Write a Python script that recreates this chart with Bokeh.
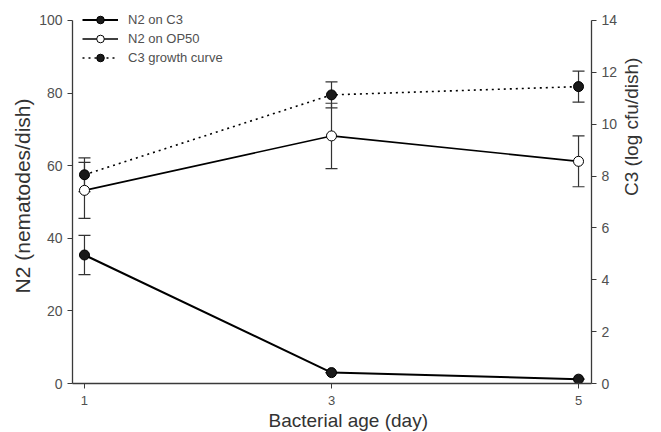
import math
from bokeh.plotting import figure
from bokeh.models import Range1d, LinearAxis, FixedTicker, Whisker, TeeHead, ColumnDataSource, Legend, LegendItem, Title
from bokeh.embed import file_html
from bokeh.resources import INLINE

# ---- data ----
days = [1, 3, 5]
n2_c3 = [35.4, 3.0, 1.2]
n2_c3_err = [5.4, 0.0, 0.0]
n2_op50 = [53.2, 68.2, 61.2]
n2_op50_err = [7.7, 9.0, 7.0]
c3_growth = [8.05, 11.13, 11.45]
c3_growth_err = [0.65, 0.5, 0.6]

x_ticks = [1, 3, 5]
left_ticks = [0, 20, 40, 60, 80, 100]
right_ticks = [0, 2, 4, 6, 8, 10, 12, 14]

FONT = "Liberation Sans"
AX = "#3a3a3a"
TXT = "#505050"
LAB = "#333333"

p = figure(width=661, height=432, output_backend="svg", toolbar_location=None,
           x_range=Range1d(0.903, 5.105), y_range=Range1d(0, 103.3),
           min_border_left=72, min_border_right=70, min_border_top=8, min_border_bottom=49)
p.extra_y_ranges = {"right": Range1d(0, 14.462)}
p.grid.visible = False
p.outline_line_color = None
p.background_fill_color = "white"

def style(ax, size):
    ax.major_label_text_font = FONT
    ax.major_label_text_font_size = size
    ax.major_label_text_color = TXT
    ax.axis_line_color = AX
    ax.axis_line_width = 1.3
    ax.major_tick_line_color = AX
    ax.major_tick_in = 0
    ax.major_tick_out = 5
    ax.minor_tick_line_color = None

xa = p.xaxis[0]
style(xa, "13px")
xa.ticker = FixedTicker(ticks=x_ticks)
xa.major_label_standoff = 7

ya = p.yaxis[0]
style(ya, "14px")
ya.ticker = FixedTicker(ticks=left_ticks)
ya.major_label_standoff = 5
ya.bounds = (0, 100)

ra = LinearAxis(y_range_name="right")
style(ra, "14px")
ra.ticker = FixedTicker(ticks=right_ticks)
ra.major_label_standoff = 5
ra.bounds = (0, 14)
ra.axis_label = "C3 (log cfu/dish)"
ra.axis_label_text_font = FONT
ra.axis_label_text_font_style = "normal"
ra.axis_label_text_font_size = "19px"
ra.axis_label_text_color = LAB
ra.axis_label_standoff = 11
ra.axis_label_orientation = math.pi / 2
p.add_layout(ra, "right")

def title(text, size, align, offset, standoff):
    return Title(text=text, align=align, offset=offset, standoff=standoff,
                 text_font=FONT, text_font_size=size, text_font_style="normal",
                 text_color=LAB)

p.add_layout(title("Bacterial age (day)", "19px", "left", 196, 0), "below")
p.add_layout(title("N2 (nematodes/dish)", "21px", "center", -26, 5), "left")

def errsrc(y, e):
    return ColumnDataSource(dict(x=days, y=y,
                                 lo=[a - b for a, b in zip(y, e)],
                                 hi=[a + b for a, b in zip(y, e)]))

s_c3 = errsrc(n2_c3, n2_c3_err)
s_op = errsrc(n2_op50, n2_op50_err)
s_gr = errsrc(c3_growth, c3_growth_err)

for src, rng in [(s_c3, "default"), (s_op, "default"), (s_gr, "right")]:
    w = Whisker(source=src, base="x", upper="hi", lower="lo", dimension="height",
                line_color="#333333", line_width=1.2, y_range_name=rng,
                upper_head=TeeHead(size=12, line_color="#333333", line_width=1.2),
                lower_head=TeeHead(size=12, line_color="#333333", line_width=1.2))
    p.add_layout(w)

l1 = p.line("x", "y", source=s_c3, line_color="black", line_width=2)
m1 = p.scatter("x", "y", source=s_c3, size=10, fill_color="#1a1a1a", line_color="black")
l2 = p.line("x", "y", source=s_op, line_color="black", line_width=1.6)
m2 = p.scatter("x", "y", source=s_op, size=10, fill_color="white", line_color="black", line_width=1)
l3 = p.line("x", "y", source=s_gr, line_color="black", line_width=1.6, line_dash="2 4", y_range_name="right")
m3 = p.scatter("x", "y", source=s_gr, size=10, fill_color="#1a1a1a", line_color="black", y_range_name="right")

legend = Legend(items=[LegendItem(label="N2 on C3", renderers=[l1, m1]),
                       LegendItem(label="N2 on OP50", renderers=[l2, m2]),
                       LegendItem(label="C3 growth curve", renderers=[l3, m3])],
                location=(10, 316), padding=0, margin=0, spacing=0,
                label_height=19, glyph_height=19, glyph_width=36, label_standoff=10,
                label_text_font=FONT, label_text_font_size="13px", label_text_color=TXT,
                border_line_color=None, background_fill_alpha=0)
p.add_layout(legend, "center")

open("out.html", "w").write(file_html(p, INLINE))
